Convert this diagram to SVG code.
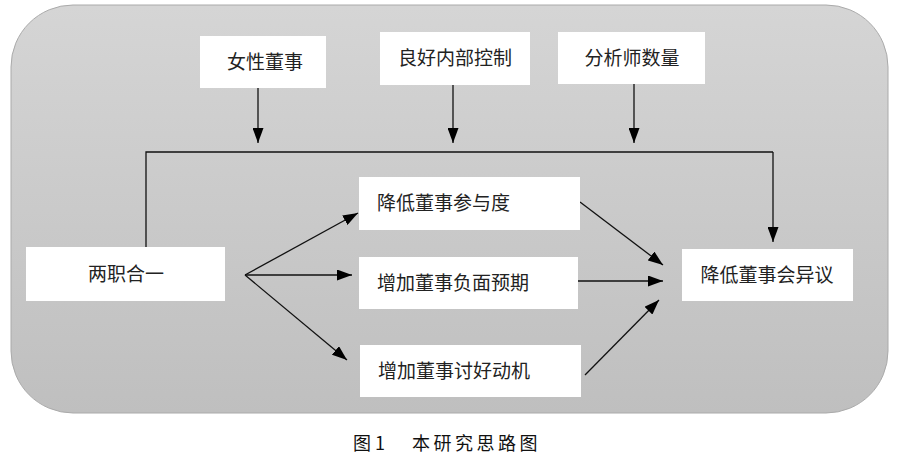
<svg xmlns="http://www.w3.org/2000/svg" width="900" height="476" viewBox="0 0 900 476">
<defs>
<linearGradient id="bg" x1="0" y1="0" x2="0" y2="1">
<stop offset="0" stop-color="#d5d5d5"/>
<stop offset="1" stop-color="#bfbfbf"/>
</linearGradient>
<marker id="ah" viewBox="0 0 15 11" refX="15" refY="5.5" markerWidth="15" markerHeight="11" markerUnits="userSpaceOnUse" orient="auto">
<path d="M0,0 L15,5.5 L0,11 Z" fill="#000"/>
</marker>
<style>
.box{fill:#fff;}
.t{font-family:"Noto Sans CJK SC","Noto Sans CJK JP",sans-serif;font-size:19px;fill:#222;}
.c{text-anchor:middle;}
.ln{stroke:#111;stroke-width:1.3;fill:none;}
.ar{stroke:#111;stroke-width:1.3;fill:none;marker-end:url(#ah);}
.cap{font-family:"Noto Sans CJK SC","Noto Sans CJK JP",sans-serif;font-size:18px;fill:#111;}
</style>
</defs>
<rect x="11" y="5" width="877" height="408" rx="62" ry="62" fill="url(#bg)" stroke="#aaa" stroke-width="1"/>
<g id="connectors">
<line class="ar" x1="258" y1="88" x2="258" y2="143"/>
<line class="ar" x1="453" y1="85" x2="453" y2="143"/>
<line class="ar" x1="634" y1="84" x2="634" y2="143"/>
<polyline class="ln" points="146,247 146,152 773,152"/>
<line class="ar" x1="773" y1="152" x2="773" y2="242"/>
<line class="ar" x1="245" y1="275" x2="358" y2="213"/>
<line class="ar" x1="245" y1="275" x2="352" y2="275"/>
<line class="ar" x1="245" y1="275" x2="347" y2="360"/>
<line class="ar" x1="580" y1="202" x2="663" y2="265"/>
<line class="ar" x1="578" y1="281" x2="663" y2="281"/>
<line class="ar" x1="585" y1="375" x2="659" y2="300"/>
</g>
<g id="n-female">
<rect class="box" x="200" y="36" width="126" height="52"/>
<text class="t c" x="265" y="69">女性董事</text>
</g>
<g id="n-control">
<rect class="box" x="380" y="32" width="150" height="53"/>
<text class="t c" x="455" y="65">良好内部控制</text>
</g>
<g id="n-analyst">
<rect class="box" x="558" y="32" width="147" height="52"/>
<text class="t c" x="632" y="65">分析师数量</text>
</g>
<g id="n-duality">
<rect class="box" x="26" y="247" width="199" height="54"/>
<text class="t c" x="126" y="281">两职合一</text>
</g>
<g id="n-participation">
<rect class="box" x="359" y="177" width="221" height="53"/>
<text class="t" x="377" y="210">降低董事参与度</text>
</g>
<g id="n-negative">
<rect class="box" x="359" y="257" width="219" height="52"/>
<text class="t" x="377" y="290">增加董事负面预期</text>
</g>
<g id="n-please">
<rect class="box" x="360" y="345" width="221" height="52"/>
<text class="t" x="378" y="378">增加董事讨好动机</text>
</g>
<g id="n-dissent">
<rect class="box" x="682" y="249" width="171" height="52"/>
<text class="t c" x="767" y="282">降低董事会异议</text>
</g>
<text class="cap" x="353" y="450">图 1</text>
<text class="cap" x="412" y="450" letter-spacing="3.5">本研究思路图</text>
</svg>
